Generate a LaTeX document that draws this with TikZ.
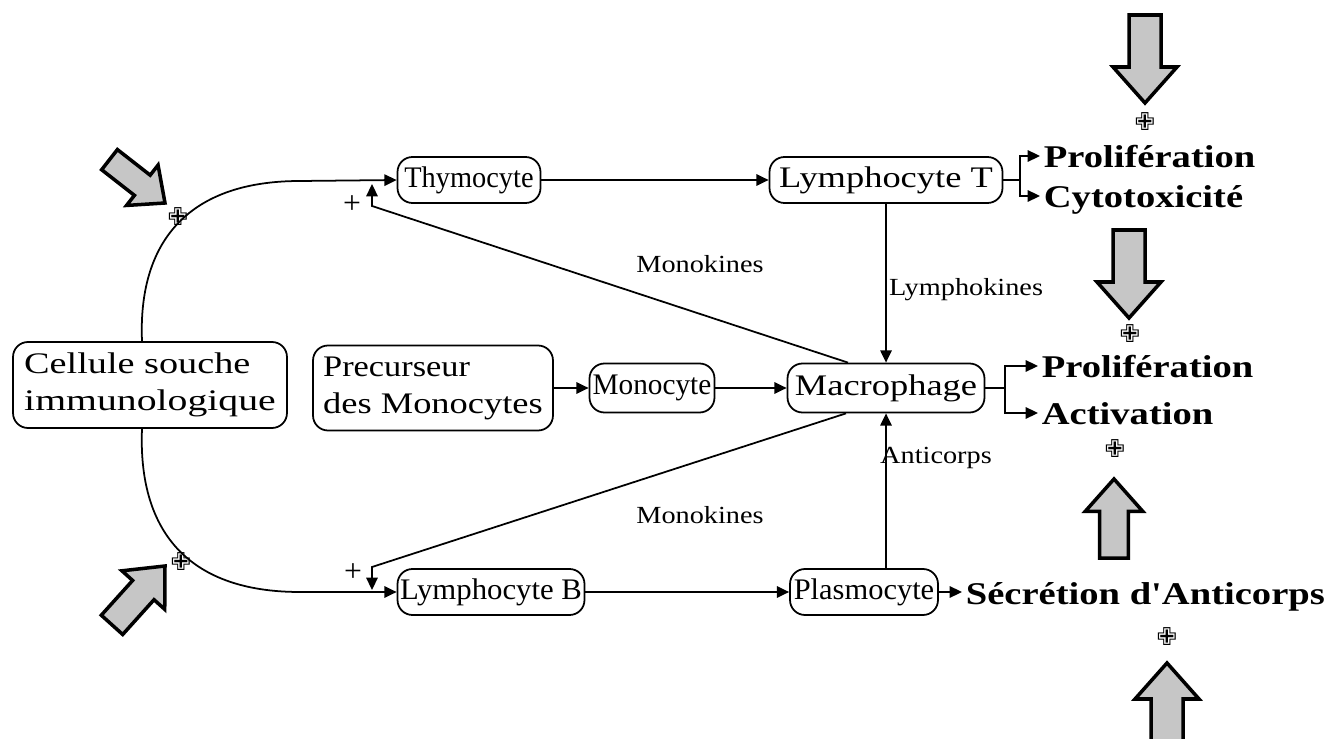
\documentclass[tikz,border=0pt]{standalone}
\usepackage{fontspec}
\usepackage{graphicx}
\setmainfont{Liberation Serif}
\newfontfamily\boldfont[FakeStretch=1.22]{Liberation Serif}
\newfontfamily\labfont[FakeStretch=1.15]{Liberation Serif}
\newfontfamily\symfont{DejaVu Sans}
\usetikzlibrary{arrows.meta}
\newcommand{\blockarr}[3]{%
  \begin{scope}[shift={#1}, rotate=#2, scale=#3]
    \draw[bigarrow] (0,0) -- (-36,32) -- (-36,16) -- (-88,16) -- (-88,-16) -- (-36,-16) -- (-36,-32) -- cycle;
  \end{scope}}
\begin{document}
\begin{tikzpicture}[x=0.02cm,y=-0.02cm,
  cellbox/.style={draw, rounded corners=8.5pt, line width=1pt, inner sep=0pt,
    font=\fontsize{17}{21}\selectfont},
  lab/.style={font=\labfont\fontsize{14}{16}\selectfont, inner sep=0pt},
  res/.style={font=\boldfont\bfseries\fontsize{18}{20}\selectfont, anchor=west,
    inner xsep=2pt, inner ysep=0pt, text height=13pt, text depth=0pt},
  conn/.style={line width=1pt, -{Triangle[length=7pt,width=6.5pt]}},
  plainline/.style={line width=1pt},
  plus/.style={font=\symfont\fontsize{14}{14}\selectfont, inner sep=0pt},
  pm/.style={font=\fontsize{18}{18}\selectfont, inner sep=0pt},
  bigarrow/.style={draw=black, line width=2pt, fill=gray!45, line join=miter}]
\useasboundingbox (0,0) rectangle (1342,739);

% boxes
\node[cellbox, minimum width=5.48cm, minimum height=1.72cm, align=left] (cell) at (150,385)
  {\scalebox{1.28}[1]{Cellule souche}\\\scalebox{1.33}[1]{immunologique}};
\node[cellbox, minimum width=2.86cm, minimum height=0.92cm] (thy) at (469,180) {\scalebox{0.95}[1]{Thymocyte}};
\node[cellbox, minimum width=4.66cm, minimum height=0.92cm] (lymT) at (886,180) {\scalebox{1.22}[1]{Lymphocyte T}};
\node[cellbox, minimum width=4.8cm, minimum height=1.7cm, align=left] (prec) at (433,388)
  {\scalebox{1.15}[1]{Precurseur}\\\scalebox{1.22}[1]{des Monocytes}};
\node[cellbox, minimum width=2.5cm, minimum height=0.98cm] (mono) at (652,388) {\scalebox{0.98}[1]{Monocyte}};
\node[cellbox, minimum width=3.94cm, minimum height=0.98cm] (macro) at (886,388) {\scalebox{1.22}[1]{Macrophage}};
\node[cellbox, minimum width=3.74cm, minimum height=0.92cm] (lymB) at (491,592) {\scalebox{1.03}[1]{Lymphocyte B}};
\node[cellbox, minimum width=2.96cm, minimum height=0.92cm] (plasmo) at (864,592) {\scalebox{1.02}[1]{Plasmocyte}};

% result texts
\node[res] (p1) at (1040,156) {Prolifération};
\node[res] (c1) at (1040,196) {Cytotoxicité};
\node[res] (p2) at (1038,366) {Prolifération};
\node[res] (a2) at (1038,413) {Activation};
\node[res] (sec) at (962,593) {Sécrétion d'Anticorps};

% labels
\node[lab] (mk1) at (700,264) {Monokines};
\node[lab] (mk2) at (700,515) {Monokines};
\node[lab] (lk) at (966,290) {Lymphokines};
\node[lab] (ac) at (936,458) {Anticorps};
\node[pm] (pl1) at (352,205) {+};
\node[pm] (pl2) at (353,573) {+};

% curves from stem cell
\draw[conn] ([xshift=-0.16cm]cell.north) .. controls (138,245) and (185,181) .. (300,181) -- (thy.west);
\draw[conn] ([xshift=-0.16cm]cell.south) .. controls (138,528) and (185,592) .. (300,592) -- (lymB.west);

% monokines feedback
\coordinate (jT) at (372,206);
\coordinate (jB) at (372,567);
\draw[conn] ([xshift=-0.76cm]macro.north) -- (jT) -- (372,184);
\draw[conn] ([xshift=-0.8cm]macro.south) -- (jB) -- (372,590);

% main flow
\draw[conn] (thy.east) -- (lymT.west);
\draw[conn] (prec.east) -- (mono.west);
\draw[conn] (mono.east) -- (macro.west);
\draw[conn] (lymB.east) -- (plasmo.west);
\draw[conn] (lymT.south) -- (macro.north);
\draw[conn] (macro.south |- plasmo.north) -- (macro.south);

% outputs
\coordinate (bT) at (1020,180);
\draw[plainline] (lymT.east) -- (bT);
\draw[conn] (bT) |- (p1.west);
\draw[conn] (bT) |- (c1.west);
\coordinate (bM) at (1005,388);
\draw[plainline] (macro.east) -- (bM);
\draw[conn] (bM) |- (p2.west);
\draw[conn] (bM) |- (a2.west);
\draw[conn] (plasmo.east) -- (plasmo.east -| sec.west);

% big block arrows
\blockarr{(1145,103)}{-90}{1}
\blockarr{(1129,318)}{-90}{1}
\blockarr{(1114,479)}{90}{0.9}
\blockarr{(1167,663)}{90}{1}
\blockarr{(165,203)}{-38}{0.8}
\blockarr{(165,566)}{48}{0.9}

% ornaments
\node[plus] (o1) at (178,217) {✙};
\node[plus] (o2) at (181,562) {✙};
\node[plus] (o3) at (1145,122) {✙};
\node[plus] (o4) at (1130,334) {✙};
\node[plus] (o5) at (1115,449) {✙};
\node[plus] (o6) at (1167,637) {✙};
\end{tikzpicture}
\end{document}
